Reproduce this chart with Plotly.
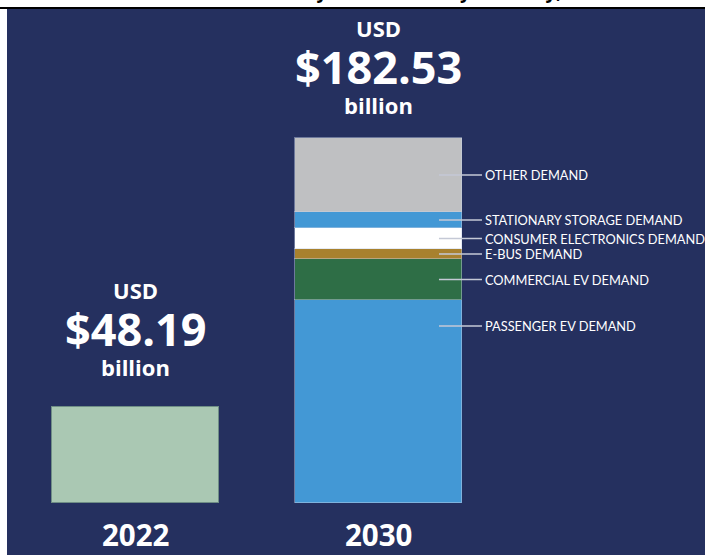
import plotly.graph_objects as go

# ---- data ----
years = ["2022", "2030"]
total_2022 = 48.19
total_2030 = 182.53
segments = ["PASSENGER EV DEMAND", "COMMERCIAL EV DEMAND", "E-BUS DEMAND",
            "CONSUMER ELECTRONICS DEMAND", "STATIONARY STORAGE DEMAND", "OTHER DEMAND"]
segment_values = [101.5, 20.5, 5.0, 10.5, 8.0, 37.03]
segment_colors = ["#4398D5", "#2E6E46", "#A8812E", "#FFFFFF", "#4398D5", "#BFC0C2"]
headline_values = ["$48.19", "$182.53"]
title_text = "Global Lithium-ion Battery Market Size by Industry, 2022-2030"

NAVY = "#25305F"
W, H = 705, 555
ML, MT = 7, 9
PW, PH = W - ML, H - MT

fig = go.Figure()

fig.add_trace(go.Bar(
    x=[0], y=[total_2022], width=0.687,
    marker=dict(color="#AAC8B3", line=dict(color="#6F8E86", width=1)),
    showlegend=False, hoverinfo="skip"))

for name, val, col in zip(segments, segment_values, segment_colors):
    fig.add_trace(go.Bar(
        x=[1], y=[val], width=0.687, name=name,
        marker=dict(color=col, line=dict(color="rgba(200,210,230,0.45)", width=1)),
        showlegend=False, hoverinfo="skip"))

ann = []
shapes = []

# segment labels with leader lines
cum = 0
label_override = {"PASSENGER EV DEMAND": 88.5}
for name, val in zip(segments, segment_values):
    mid = cum + val / 2
    cum += val
    ly = label_override.get(name, mid)
    shapes.append(dict(type="line", xref="x", yref="y", x0=1.249, x1=1.426, y0=ly, y1=ly,
                       line=dict(color="#C5C9D6", width=1.5)))
    ann.append(dict(x=1.435, y=ly, xref="x", yref="y", text=name, showarrow=False,
                    xanchor="left", yanchor="middle", borderpad=0,
                    font=dict(family="Lato", size=12.8, color="white")))

# headlines above bars
tops = [total_2022, total_2030]
extra = [7, 0]
for i, yr in enumerate(years):
    ann.append(dict(x=i, y=tops[i], xref="x", yref="y", text="<b>USD</b>", showarrow=False,
                    yanchor="middle", yshift=110 + extra[i], borderpad=0,
                    font=dict(family="Open Sans", size=22, color="white")))
    ann.append(dict(x=i, y=tops[i], xref="x", yref="y", text="<b>" + headline_values[i] + "</b>",
                    showarrow=False, yanchor="middle", yshift=71 + extra[i], borderpad=0,
                    font=dict(family="Open Sans", size=45, color="white")))
    ann.append(dict(x=i, y=tops[i], xref="x", yref="y", text="<b>billion</b>", showarrow=False,
                    yanchor="middle", yshift=33 + extra[i], borderpad=0,
                    font=dict(family="Open Sans", size=22, color="white")))
    ann.append(dict(x=i, y=-15.5, xref="x", yref="y", text="<b>" + yr + "</b>", showarrow=False,
                    yanchor="middle",
                    font=dict(family="Open Sans", size=29.5, color="white")))

# cut-off title at the very top
ann.append(dict(x=(367 - ML) / PW, y=1 + (MT - 6) / PH, xref="paper", yref="paper",
                text="<b>" + title_text + "</b>", showarrow=False,
                xanchor="center", yanchor="bottom",
                font=dict(family="Open Sans", size=19, color="black")))

# black rule above the navy panel
shapes.append(dict(type="line", xref="paper", yref="paper", x0=-ML / PW, x1=1,
                   y0=1 + 1 / PH, y1=1 + 1 / PH, line=dict(color="black", width=2)))

fig.update_layout(
    width=W, height=H,
    margin=dict(l=ML, r=0, t=MT, b=0, pad=0),
    paper_bgcolor="white", plot_bgcolor=NAVY,
    barmode="stack", bargap=0,
    xaxis=dict(range=[-0.529, 2.344], visible=False, fixedrange=True),
    yaxis=dict(range=[-26, 247], visible=False, fixedrange=True),
    annotations=ann, shapes=shapes,
    hovermode=False,
)

fig.write_html("out.html", config={"displayModeBar": False},
               post_script="document.body.style.margin='0';document.body.style.overflow='hidden';")
